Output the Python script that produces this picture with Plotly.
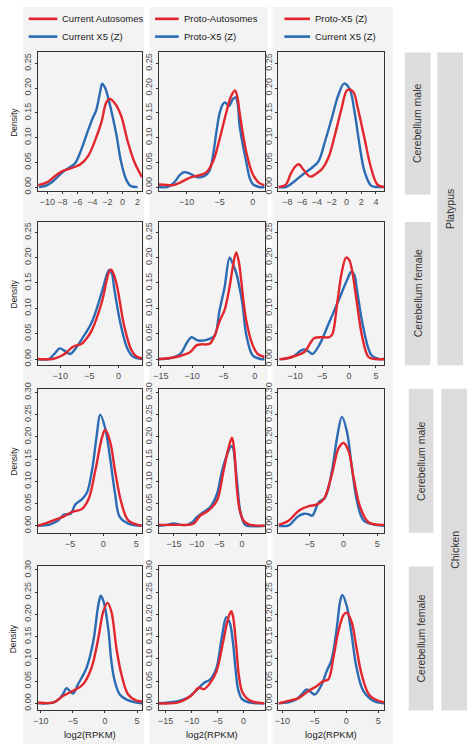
import plotly.graph_objects as go

W, H = 467, 747
RED = "#e2262e"
BLUE = "#2b6bb3"
FONT = "Liberation Sans, Arial, sans-serif"

# ---------------- data ----------------
legend_names = [["Current Autosomes", "Current X5 (Z)"],
                ["Proto-Autosomes", "Proto-X5 (Z)"],
                ["Proto-X5 (Z)", "Current X5 (Z)"]]
row_labels = ["Cerebellum male", "Cerebellum female", "Cerebellum male", "Cerebellum female"]
species_labels = ["Platypus", "Chicken"]
x_title = "log2(RPKM)"
y_title = "Density"

# row 1
p11_red_x = [-11.2, -10, -9, -8, -7, -6, -5.6, -4.6, -3.7, -2.8, -2.15, -1.7, -1.05, -0.2, 0.7, 1.6, 2.6]
p11_red_y = [0.004, 0.01, 0.022, 0.032, 0.037, 0.043, 0.046, 0.062, 0.092, 0.131, 0.171, 0.178, 0.17, 0.145, 0.092, 0.05, 0.02]
p11_blue_x = [-11.1, -10, -9, -8, -7, -6.3, -5.5, -4.8, -4, -3.5, -3, -2.7, -2.3, -1.9, -1.5, -0.8, -0.2, 0.5, 1.1, 2]
p11_blue_y = [0.0, 0.004, 0.015, 0.03, 0.04, 0.048, 0.075, 0.105, 0.138, 0.155, 0.19, 0.209, 0.2, 0.18, 0.155, 0.105, 0.052, 0.015, 0.002, 0.0]

p12_red_x = [-14.2, -13, -12, -11, -10, -9, -8, -7, -6, -5, -4, -3.3, -2.7, -2.3, -2.0, -1.0, 0, 1, 1.8]
p12_red_y = [0.005, 0.004, 0.004, 0.009, 0.016, 0.021, 0.024, 0.03, 0.052, 0.098, 0.151, 0.183, 0.195, 0.18, 0.151, 0.072, 0.026, 0.008, 0.004]
p12_blue_x = [-14.2, -13, -12, -11, -10.4, -9.5, -8.5, -7.8, -7, -6.5, -6.0, -5.5, -5, -4.5, -4.2, -3.6, -3.0, -2.6, -2.3, -2.0, -1.5, -1.0, -0.5, 0, 1.0, 1.8]
p12_blue_y = [0.0, 0.0, 0.008, 0.025, 0.03, 0.027, 0.02, 0.02, 0.025, 0.035, 0.065, 0.112, 0.15, 0.168, 0.171, 0.164, 0.178, 0.181, 0.17, 0.125, 0.085, 0.052, 0.02, 0.006, 0.0, 0.0]

p13_red_x = [-9.2, -8.2, -7.56, -6.9, -6.44, -5.8, -4.9, -4.1, -3.33, -2.44, -1.56, -0.67, 0.13, 0.89, 1.56, 2.44, 3.33, 4.2, 5.1]
p13_red_y = [0.0, 0.005, 0.026, 0.042, 0.046, 0.035, 0.021, 0.027, 0.036, 0.059, 0.105, 0.158, 0.196, 0.193, 0.158, 0.099, 0.039, 0.005, 0.0]
p13_blue_x = [-9.2, -8.2, -7.5, -6.44, -5.5, -4.67, -3.78, -2.9, -2.0, -1.11, -0.31, 0.44, 1.11, 1.78, 2.44, 3.33, 4.2, 5.1]
p13_blue_y = [0.0, 0.0, 0.006, 0.019, 0.03, 0.039, 0.052, 0.092, 0.138, 0.185, 0.209, 0.198, 0.151, 0.085, 0.032, 0.003, 0.0, 0.0]

# row 2
p21_red_x = [-13.9, -11.4, -10.5, -9.7, -8.8, -8.0, -7.2, -6.3, -5.5, -4.6, -2.9, -1.6, -1.24, -0.6, -0.1, 1.0, 2.15, 3.0, 4.1]
p21_red_y = [0.0, 0.0, 0.003, 0.007, 0.014, 0.023, 0.027, 0.030, 0.04, 0.056, 0.11, 0.172, 0.176, 0.16, 0.136, 0.065, 0.02, 0.006, 0.001]
p21_blue_x = [-13.9, -12, -11, -10.1, -9.2, -8.3, -7.3, -6.3, -4.6, -2.9, -1.8, -1.5, -1.1, -0.68, 0.45, 1.58, 2.5, 4.1]
p21_blue_y = [0.0, 0.0, 0.01, 0.021, 0.016, 0.01, 0.022, 0.039, 0.072, 0.13, 0.172, 0.176, 0.168, 0.136, 0.065, 0.02, 0.005, 0.0]

p22_red_x = [-15.3, -13.5, -11.9, -10.3, -9.3, -8.5, -7.2, -6.4, -5.6, -4.8, -4.0, -3.5, -2.95, -2.5, -2.16, -1.37, -0.3, 0.5, 1.6]
p22_red_y = [0.0, 0.002, 0.006, 0.014, 0.027, 0.029, 0.03, 0.046, 0.075, 0.097, 0.143, 0.181, 0.21, 0.19, 0.156, 0.078, 0.027, 0.01, 0.004]
p22_blue_x = [-15.3, -13.5, -11.9, -10.8, -10.1, -9.3, -8.8, -7.2, -6.4, -5.6, -4.8, -4.0, -3.5, -2.95, -2.4, -1.9, -1.37, -0.3, 1.0, 1.6]
p22_blue_y = [0.0, 0.002, 0.01, 0.033, 0.043, 0.038, 0.036, 0.04, 0.046, 0.097, 0.142, 0.2, 0.188, 0.17, 0.14, 0.105, 0.05, 0.007, 0.0, 0.0]

p23_red_x = [-12.9, -12.3, -10.1, -8.3, -7.1, -6.5, -4.95, -3.7, -3.1, -2.2, -1.28, -0.55, 0.0, 0.55, 1.47, 2.4, 3.6, 4.8, 6.5]
p23_red_y = [0.0, 0.0, 0.006, 0.014, 0.033, 0.041, 0.043, 0.043, 0.049, 0.11, 0.175, 0.2, 0.196, 0.175, 0.11, 0.046, 0.004, 0.0, 0.0]
p23_blue_x = [-12.9, -12.3, -10.5, -8.9, -8.3, -7.5, -6.8, -5.56, -3.7, -1.9, -0.37, 0.43, 1.0, 1.47, 2.7, 4.2, 5.7, 6.5]
p23_blue_y = [0.0, 0.0, 0.004, 0.017, 0.019, 0.015, 0.01, 0.027, 0.072, 0.117, 0.156, 0.172, 0.165, 0.136, 0.059, 0.007, 0.0, 0.0]

# row 3
p31_red_x = [-9.9, -8.2, -7.2, -5.9, -4.7, -3.18, -2.2, -1.2, -0.2, 0.3, 1.04, 1.8, 2.8, 3.8, 5.8]
p31_red_y = [0.0, 0.008, 0.014, 0.021, 0.031, 0.038, 0.06, 0.123, 0.197, 0.216, 0.19, 0.123, 0.049, 0.012, 0.0]
p31_blue_x = [-9.9, -8.2, -7.7, -6.8, -5.9, -4.9, -4.2, -3.18, -2.44, -1.7, -0.95, -0.45, 0.3, 1.04, 1.8, 2.5, 3.8, 5.8]
p31_blue_y = [0.0, 0.002, 0.005, 0.012, 0.025, 0.027, 0.048, 0.06, 0.075, 0.123, 0.205, 0.25, 0.22, 0.153, 0.072, 0.02, 0.005, 0.0]

p32_red_x = [-18.3, -16, -14, -12.1, -10.6, -9.2, -8.0, -7.0, -5.5, -4.07, -2.97, -2.2, -1.7, -1.14, -0.5, 0.33, 1.5, 2.5, 5.1]
p32_red_y = [0.002, 0.002, 0.002, 0.002, 0.005, 0.023, 0.03, 0.038, 0.057, 0.123, 0.175, 0.198, 0.17, 0.086, 0.035, 0.012, 0.003, 0.001, 0.0]
p32_blue_x = [-18.3, -16.5, -15, -13.5, -12.1, -11, -9.9, -8.5, -7.0, -5.5, -4.4, -3.3, -2.5, -2.1, -1.5, -1.0, -0.4, 0.5, 1.05, 5.1]
p32_blue_y = [0.0, 0.002, 0.005, 0.002, 0.002, 0.008, 0.02, 0.031, 0.042, 0.072, 0.123, 0.16, 0.178, 0.178, 0.14, 0.09, 0.034, 0.005, 0.0, 0.0]

p33_red_x = [-9.6, -8.06, -6.6, -5.1, -3.9, -2.9, -1.7, -0.7, 0.03, 0.76, 1.5, 2.47, 3.7, 6.0]
p33_red_y = [0.002, 0.012, 0.034, 0.044, 0.048, 0.06, 0.116, 0.175, 0.186, 0.168, 0.108, 0.042, 0.008, 0.002]
p33_blue_x = [-9.6, -8.06, -6.8, -5.85, -5.2, -4.6, -3.65, -2.7, -1.7, -0.96, -0.22, 0.51, 1.25, 1.98, 2.97, 4.7, 6.0]
p33_blue_y = [0.0, 0.001, 0.02, 0.027, 0.026, 0.023, 0.053, 0.064, 0.123, 0.197, 0.245, 0.212, 0.13, 0.057, 0.012, 0.002, 0.0]

# row 4
p41_red_x = [-10.4, -8.0, -6.5, -5.0, -3.4, -2.1, -1.05, -0.28, 0.39, 1.0, 1.78, 2.56, 3.6, 4.9, 5.8]
p41_red_y = [0.002, 0.002, 0.017, 0.028, 0.043, 0.08, 0.146, 0.206, 0.226, 0.206, 0.124, 0.065, 0.02, 0.006, 0.004]
p41_blue_x = [-10.4, -8.0, -7.0, -6.5, -6.0, -5.5, -5.0, -4.2, -2.87, -1.83, -1.05, -0.65, -0.2, 0.5, 1.0, 1.52, 2.3, 3.3, 5.1, 5.8]
p41_blue_y = [0.0, 0.002, 0.012, 0.022, 0.034, 0.028, 0.022, 0.043, 0.08, 0.139, 0.22, 0.242, 0.228, 0.169, 0.094, 0.05, 0.02, 0.009, 0.001, 0.0]

p42_red_x = [-16.4, -12.6, -10.1, -8.6, -7.6, -6.4, -5.2, -3.9, -2.98, -2.36, -2.0, -1.4, -0.9, -0.2, 1.0, 2.0, 4.1]
p42_red_y = [0.0, 0.002, 0.017, 0.035, 0.032, 0.046, 0.072, 0.139, 0.19, 0.207, 0.195, 0.13, 0.065, 0.025, 0.008, 0.003, 0.0]
p42_blue_x = [-16.4, -14.5, -12.6, -10.7, -9.2, -7.6, -6.4, -5.2, -4.2, -3.3, -2.6, -2.05, -1.5, -1.0, -0.3, 1.0, 4.1]
p42_blue_y = [0.0, 0.002, 0.005, 0.013, 0.028, 0.046, 0.054, 0.08, 0.146, 0.194, 0.18, 0.14, 0.075, 0.03, 0.01, 0.002, 0.0]

p43_red_x = [-10.6, -8.9, -7.3, -5.9, -4.6, -3.6, -2.8, -2.03, -1.25, -0.47, 0.05, 0.83, 1.6, 2.4, 3.7, 5.9]
p43_red_y = [0.0, 0.006, 0.013, 0.028, 0.039, 0.05, 0.054, 0.102, 0.161, 0.198, 0.204, 0.183, 0.124, 0.065, 0.017, 0.002]
p43_blue_x = [-10.6, -9.06, -7.76, -6.98, -6.2, -5.5, -4.9, -3.86, -3.08, -2.3, -1.5, -0.98, -0.63, 0.05, 0.83, 1.6, 2.66, 4.2, 5.9]
p43_blue_y = [0.0, 0.002, 0.009, 0.02, 0.031, 0.025, 0.02, 0.042, 0.072, 0.098, 0.168, 0.228, 0.244, 0.22, 0.154, 0.08, 0.028, 0.006, 0.0]

panels = [
    [(p11_red_x, p11_red_y, p11_blue_x, p11_blue_y), (p12_red_x, p12_red_y, p12_blue_x, p12_blue_y), (p13_red_x, p13_red_y, p13_blue_x, p13_blue_y)],
    [(p21_red_x, p21_red_y, p21_blue_x, p21_blue_y), (p22_red_x, p22_red_y, p22_blue_x, p22_blue_y), (p23_red_x, p23_red_y, p23_blue_x, p23_blue_y)],
    [(p31_red_x, p31_red_y, p31_blue_x, p31_blue_y), (p32_red_x, p32_red_y, p32_blue_x, p32_blue_y), (p33_red_x, p33_red_y, p33_blue_x, p33_blue_y)],
    [(p41_red_x, p41_red_y, p41_blue_x, p41_blue_y), (p42_red_x, p42_red_y, p42_blue_x, p42_blue_y), (p43_red_x, p43_red_y, p43_blue_x, p43_blue_y)],
]

x_ticks = [
    [[-10, -8, -6, -4, -2, 0, 2], [-10, -5, 0], [-8, -6, -4, -2, 0, 2, 4]],
    [[-10, -5, 0], [-15, -10, -5, 0], [-10, -5, 0, 5]],
    [[-5, 0, 5], [-15, -10, -5, 0], [-5, 0, 5]],
    [[-10, -5, 0, 5], [-15, -10, -5, 0], [-10, -5, 0, 5]],
]
y_ticks = [
    [0.00, 0.05, 0.10, 0.15, 0.20, 0.25],
    [0.00, 0.05, 0.10, 0.15, 0.20, 0.25],
    [0.00, 0.05, 0.10, 0.15, 0.20, 0.25, 0.30],
    [0.00, 0.05, 0.10, 0.15, 0.20, 0.25, 0.30],
]

# ---------------- layout (pixel geometry) ----------------
x_ranges = [
    [[-11.3, 2.63], [-14.2, 1.8], [-9.2, 5.1]],
    [[-13.9, 4.1], [-15.3, 1.6], [-13.1, 6.5]],
    [[-9.9, 5.9], [-18.3, 5.0], [-9.6, 6.0]],
    [[-10.5, 5.8], [-16.3, 4.1], [-10.6, 5.9]],
]
y_ranges = [[-0.009, 0.272], [-0.012, 0.27], [-0.016, 0.308], [-0.016, 0.308]]

col_px = [(32, 138), (155, 262), (276, 383)]
row_px = [(46, 187), (218, 363), (387, 533), (567, 713)]
colbg_px = [(17, 140), (145, 265), (270, 392)]


def px(x):
    return x / W


def py(y):
    return 1 - y / H


fig = go.Figure()
layout = {}
for r in range(4):
    for c in range(3):
        k = r * 3 + c + 1
        xa = "x" if k == 1 else f"x{k}"
        ya = "y" if k == 1 else f"y{k}"
        rx, ry, bx, by = panels[r][c]
        fig.add_trace(go.Scatter(x=bx, y=by, mode="lines", xaxis=xa, yaxis=ya,
                                 line=dict(color=BLUE, width=2.4, shape="spline", smoothing=1.0),
                                 showlegend=False, hoverinfo="skip"))
        fig.add_trace(go.Scatter(x=rx, y=ry, mode="lines", xaxis=xa, yaxis=ya,
                                 line=dict(color=RED, width=2.4, shape="spline", smoothing=1.0),
                                 showlegend=False, hoverinfo="skip"))
        x0, x1 = col_px[c]
        y0, y1 = row_px[r]
        axcommon = dict(showline=True, mirror=True, linecolor="#333333", linewidth=1,
                        ticks="outside", ticklen=2, tickwidth=1, tickcolor="#333333",
                        showgrid=False, zeroline=False,
                        tickfont=dict(size=9, color="#4d4d4d", family=FONT))
        layout["xaxis" if k == 1 else f"xaxis{k}"] = dict(
            domain=[px(x0), px(x1)], anchor=ya, range=x_ranges[r][c],
            tickvals=x_ticks[r][c], **axcommon)
        layout["yaxis" if k == 1 else f"yaxis{k}"] = dict(
            domain=[py(y1), py(y0)], anchor=xa, range=y_ranges[r],
            tickvals=y_ticks[r], ticktext=[f"{v:.2f}" for v in y_ticks[r]],
            tickangle=-90, **axcommon)

shapes = []
annotations = []


def label(xp, yp, text, size, angle=0, xanchor="center", color="#333333"):
    annotations.append(dict(x=px(xp), y=py(yp), xref="paper", yref="paper", text=text,
                            textangle=angle, showarrow=False, xanchor=xanchor, yanchor="middle",
                            font=dict(size=size, color=color, family=FONT)))


# column backgrounds
for (a, b) in colbg_px:
    shapes.append(dict(type="rect", xref="paper", yref="paper", x0=px(a), x1=px(b), y0=0, y1=1,
                       fillcolor="#f3f3f3", line=dict(width=0), layer="below"))

# strips
inner_strips = [((404, 430), (46, 190)), ((404, 430), (218, 363)), ((408, 433), (387, 533)), ((408, 433), (567, 713))]
outer_strips = [((437, 463), (46, 363)), ((441, 467), (387, 713))]
STRIP = "#dcdcdc"
for i, ((a, b), (t, u)) in enumerate(inner_strips):
    shapes.append(dict(type="rect", xref="paper", yref="paper", x0=px(a), x1=px(b), y0=py(u), y1=py(t),
                       fillcolor=STRIP, line=dict(width=0), layer="below"))
    label((a + b) / 2, (t + u) / 2, row_labels[i], 10.5, angle=-90)
for i, ((a, b), (t, u)) in enumerate(outer_strips):
    shapes.append(dict(type="rect", xref="paper", yref="paper", x0=px(a), x1=px(b), y0=py(u), y1=py(t),
                       fillcolor=STRIP, line=dict(width=0), layer="below"))
    label((a + b) / 2, (t + u) / 2, species_labels[i], 10.5, angle=-90)

# legends (one per column)
leg_line_px = [(23, 52), (151, 175), (282, 308)]
leg_rows_px = [12, 30]
for c in range(3):
    a, b = leg_line_px[c]
    for j, color in enumerate([RED, BLUE]):
        yy = leg_rows_px[j]
        shapes.append(dict(type="line", xref="paper", yref="paper", x0=px(a), x1=px(b),
                           y0=py(yy), y1=py(yy), line=dict(color=color, width=2.6)))
        label(b + 3, yy, legend_names[c][j], 9.5, xanchor="left", color="#1a1a1a")

# axis titles
for r in range(4):
    t, u = row_px[r]
    label(8, (t + u) / 2, y_title, 8.5, angle=-90, color="#1a1a1a")
for c in range(3):
    a, b = col_px[c]
    label((a + b) / 2, 737, x_title, 9.5, color="#1a1a1a")

fig.update_layout(width=W, height=H, autosize=False, margin=dict(l=0, r=0, t=0, b=0),
                  paper_bgcolor="white", plot_bgcolor="#f3f3f3",
                  shapes=shapes, annotations=annotations, showlegend=False,
                  font=dict(family=FONT), **layout)

fig.write_html("out.html", config={"displayModeBar": False},
               post_script="document.body.style.margin='0';document.body.style.overflow='hidden';")
